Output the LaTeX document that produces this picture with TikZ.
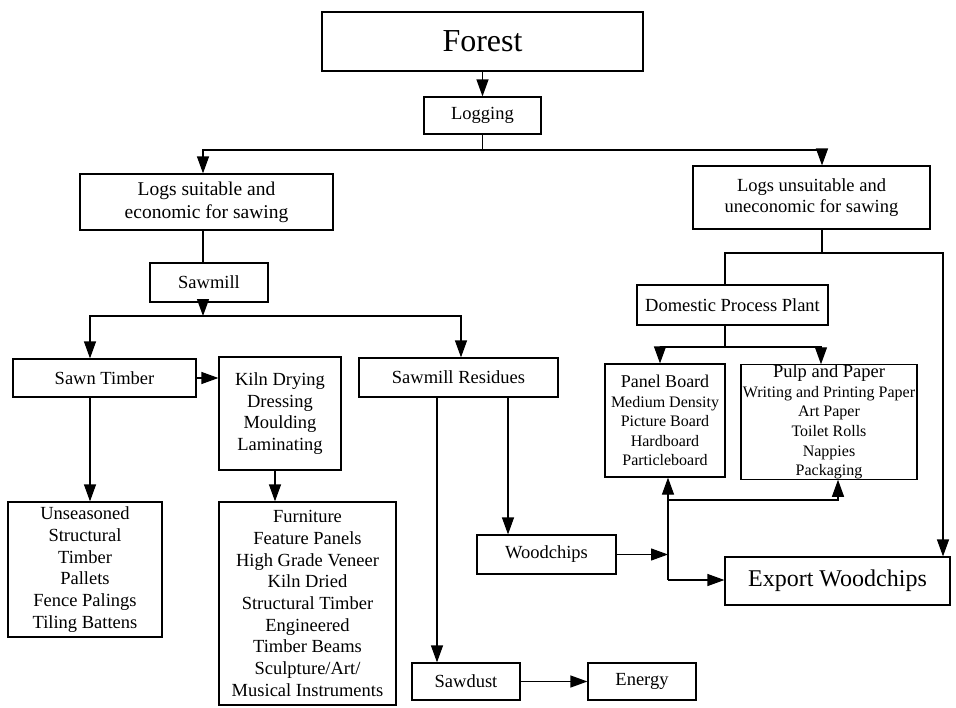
\documentclass[tikz,border=0pt]{standalone}
\usepackage{fontspec}
\setmainfont{Liberation Serif}
\usetikzlibrary{arrows.meta}
\begin{document}
\begin{tikzpicture}[x=1pt,y=-1pt,line width=1.2pt,
  box/.style={draw, line width=1.2pt, align=center, inner sep=0pt, font=\fontsize{18.5}{21.7}\selectfont},
  small/.style={font=\fontsize{16}{19.6}\selectfont},
  arr/.style={-{Triangle[length=17pt,width=12pt]}}]
\fill[white] (0,0) rectangle (956,707);
\useasboundingbox (0,0) rectangle (956,707);
% nodes
\node[box, minimum width=321pt, minimum height=59pt, font=\fontsize{32}{36}\selectfont] (forest) at (482.5,41.5) {Forest};
\node[box, minimum width=117pt, minimum height=37pt] (logging) at (482.5,115.5) {Logging};
\node[box, minimum width=253pt, minimum height=56pt, font=\fontsize{19.5}{23}\selectfont] (suit) at (206.5,202) {Logs suitable and\\economic for sawing};
\node[box, minimum width=237pt, minimum height=63pt] (unsuit) at (811.5,197.5) {Logs unsuitable and\\uneconomic for sawing};
\node[box, minimum width=118pt, minimum height=39pt] (sawmill) at (209,282.5) {Sawmill};
\node[box, minimum width=183pt, minimum height=38pt] (sawn) at (104.5,378) {Sawn Timber};
\node[box, minimum width=122pt, minimum height=113pt] (kiln) at (280,413.5) {Kiln Drying\\Dressing\\Moulding\\Laminating};
\node[box, minimum width=199pt, minimum height=39pt] (resid) at (458.5,377.5) {Sawmill Residues};
\node[box, minimum width=154pt, minimum height=135pt] (unseason) at (85,569.5) {Unseasoned\\Structural\\Timber\\Pallets\\Fence Palings\\Tiling Battens};
\node[box, minimum width=177pt, minimum height=203pt] (furn) at (307.5,603.5) {Furniture\\Feature Panels\\High Grade Veneer\\Kiln Dried\\Structural Timber\\Engineered\\Timber Beams\\Sculpture/Art/\\Musical Instruments};
\node[box, minimum width=108pt, minimum height=37pt] (sawdust) at (466,681.5) {Sawdust};
\node[box, minimum width=108pt, minimum height=37pt] (energy) at (642,681.5) {Energy};
\node[box, minimum width=139pt, minimum height=39pt] (woodchips) at (546.5,554.5) {Woodchips};
\node[box, minimum width=191pt, minimum height=40pt] (dpp) at (732.5,305) {Domestic Process Plant};
\node[box, small, minimum width=120pt, minimum height=113pt] (panel) at (665,420.5) {{\fontsize{18}{20}\selectfont Panel Board}\\Medium Density\\Picture Board\\Hardboard\\Particleboard};
\node[box, small, minimum width=176pt, minimum height=113pt] (pulp) at (829,422) {{\fontsize{18.5}{20}\selectfont Pulp and Paper}\\Writing and Printing Paper\\Art Paper\\Toilet Rolls\\Nappies\\Packaging};
\node[box, minimum width=225pt, minimum height=48pt, font=\fontsize{24}{28}\selectfont] (export) at (837.5,581) {Export Woodchips};
% junction coordinates
\coordinate (j1) at (482.5,150);
\coordinate (j2) at (203,316);
\coordinate (j4) at (668,500);
\coordinate (j5) at (668,580);
\coordinate (j6) at (822,253);
\coordinate (j7) at (725,347);
% connectors
\draw[arr] (forest) -- (logging);
\draw (logging.south) -- (j1);
\draw[arr] (j1) -| ([xshift=-3.5pt]suit.north);
\draw[arr] (j1) -| ([xshift=10.5pt]unsuit.north);
\draw ([xshift=-3.5pt]suit.south) -- ([xshift=-6pt]sawmill.north);
\draw[arr] ([xshift=-6pt]sawmill.south) -- (j2);
\draw[arr] (j2) -| ([xshift=-14.5pt]sawn.north);
\draw[arr] (j2) -| ([xshift=2.5pt]resid.north);
\draw[arr] (sawn.east) -- (kiln.west |- sawn.east);
\draw[arr] ([xshift=-14.5pt]sawn.south) -- ([xshift=5pt]unseason.north);
\draw[arr] ([xshift=-5pt]kiln.south) -- ([xshift=-32.5pt]furn.north);
\draw[arr] ([xshift=-21.5pt]resid.south) -- ([xshift=-29pt]sawdust.north);
\draw[arr] ([xshift=49.5pt]resid.south) -- ([xshift=-38.5pt]woodchips.north);
\draw[arr] (sawdust) -- (energy);
\draw[arr] (woodchips.east) -- (woodchips.east -| j4);
\draw[arr] (j5) -- (export.west |- j5);
\draw[arr] (j5) -- ([xshift=3pt]panel.south);
\draw[arr] (j4) -| ([xshift=9pt]pulp.south);
\draw ([xshift=10.5pt]unsuit.south) -- (j6);
\draw (j6) -| ([xshift=-7.5pt]dpp.north);
\draw[arr] (j6) -| ([xshift=105.5pt]export.north);
\draw ([xshift=-7.5pt]dpp.south) -- (j7);
\draw[arr] (j7) -| ([xshift=-5pt]panel.north);
\draw[arr] (j7) -| ([xshift=-8pt]pulp.north);
\end{tikzpicture}
\end{document}
